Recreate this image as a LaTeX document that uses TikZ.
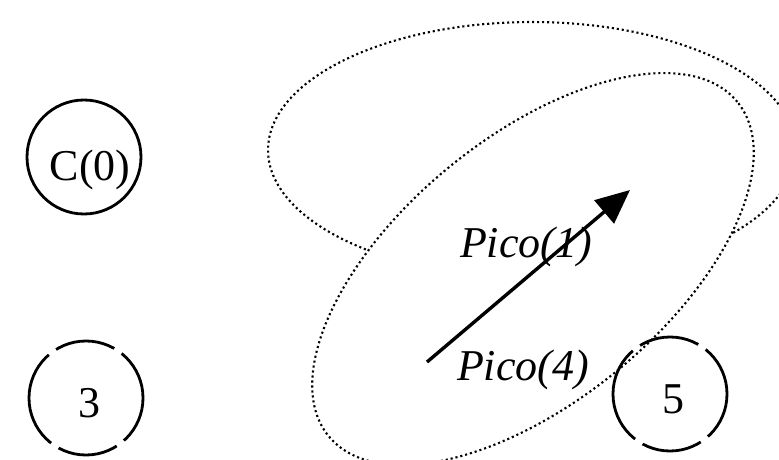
\documentclass[tikz,border=0pt]{standalone}
\usepackage{fontspec}
\setmainfont{Liberation Serif}
\usetikzlibrary{arrows.meta}

\tikzset{
  txt/.style={font=\fontsize{44}{48}\selectfont, anchor=base, inner sep=0pt},
  zone/.style={line width=2.1pt, dash pattern=on 2.1pt off 2.9pt},
  cellbs/.style={circle, draw, line width=2.8pt, minimum size=114pt, inner sep=0pt},
  gapped/.style={dash pattern=on 51pt off 9pt on 61pt off 9pt on 101pt off 9pt on 61pt off 9pt on 50pt}
}

\begin{document}
\begin{tikzpicture}[x=1pt,y=1pt]
\useasboundingbox (0,0) rectangle (779,459);

\coordinate (Z4) at (533,190);
\coordinate (tail) at (427,97);
\coordinate (head) at (630,269);

% coverage of Pico(1), only outside Pico(4)
\begin{scope}[even odd rule, rotate around={39.3:(533,190)}]
\clip (-2000,-2000) -- (-2000,3000) -- (3000,3000) -- (3000,-2000) -- cycle
  (533,190) ellipse (264 and 132);
\draw[zone, rotate around={-39.3:(533,190)}] (532,309) ellipse (264 and 128);
\end{scope}

% coverage of Pico(4)
\draw[zone, rotate around={39.3:(Z4)}] (Z4) ellipse (264 and 132);

% base stations
\node[cellbs] (bs0) at (84,302) {};
\node[cellbs, gapped] (bs3) at (86,61) {};
\node[cellbs, gapped] (bs5) at (670,65) {};

\node[txt] (c0) at (90,279) {C(0)};
\node[txt] (n3) at (89,42) {3};
\node[txt] (n5) at (673,46) {5};

\node[txt, font=\fontsize{44}{48}\selectfont\itshape] (p1) at (526,202) {Pico(1)};
\node[txt, font=\fontsize{44}{48}\selectfont\itshape] (p4) at (523,79) {Pico(4)};

\draw[line width=3.4pt, -{Triangle[length=34pt,width=30pt]}] (tail) -- (head);
\end{tikzpicture}
\end{document}
